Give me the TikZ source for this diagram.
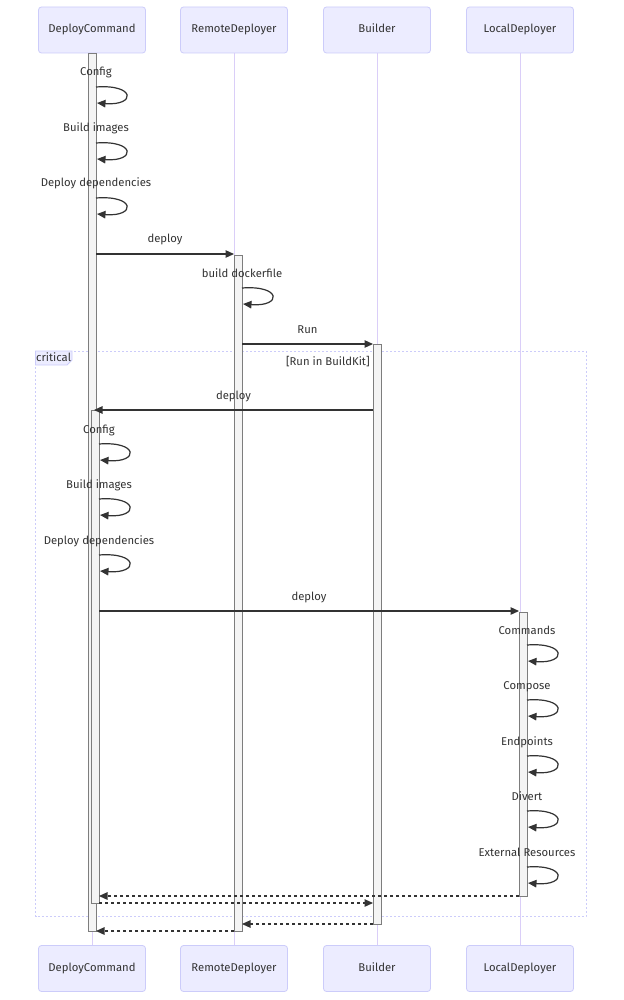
\documentclass[tikz,border=0pt]{standalone}
\usepackage{fontspec}
\setmainfont{Fira Sans}
\usetikzlibrary{arrows.meta}
\definecolor{ActorFill}{RGB}{236,236,255}
\definecolor{ActorEdge}{RGB}{204,204,250}
\definecolor{LifeLine}{RGB}{218,206,248}
\definecolor{ActFill}{RGB}{244,244,244}
\definecolor{ActEdge}{RGB}{125,125,125}
\definecolor{InkGray}{RGB}{51,51,51}
\tikzset{
  actor/.style={draw=ActorEdge,fill=ActorFill,rounded corners=3pt,line width=0.8pt,
    minimum width=107pt,minimum height=46pt,inner sep=0pt,text height=8pt,text depth=2.5pt,
    font=\fontsize{11.3}{13}\selectfont,text=InkGray},
  lifeline/.style={draw=LifeLine,line width=0.9pt},
  activation/.style={draw=ActEdge,fill=ActFill,line width=0.8pt},
  msg/.style={-{Triangle[length=8.5pt,width=7.5pt]},line width=1.2pt,InkGray},
  reply/.style={msg,dash pattern=on 3pt off 3pt},
  msglabel/.style={font=\fontsize{11.3}{13}\selectfont,text=InkGray,inner sep=0pt,anchor=base},
  critframe/.style={draw=ActorEdge,dash pattern=on 2pt off 2pt,line width=0.8pt}
}
\begin{document}
\begin{tikzpicture}[x=1pt,y=-1pt]
  \useasboundingbox[fill=white] (0,0) rectangle (623,1000);
  % actors, top and bottom
  \node[actor] (dcTop) at (92,30) {DeployCommand};
  \node[actor] (rdTop) at (234,30) {RemoteDeployer};
  \node[actor] (bTop) at (377,30) {Builder};
  \node[actor] (ldTop) at (520,30) {LocalDeployer};
  \node[actor] (dcBot) at (92,968.5) {DeployCommand};
  \node[actor] (rdBot) at (234,968.5) {RemoteDeployer};
  \node[actor] (bBot) at (377,968.5) {Builder};
  \node[actor] (ldBot) at (520,968.5) {LocalDeployer};
  \foreach \a in {dc,rd,b,ld}
    \draw[lifeline] (\a Top.south) -- (\a Bot.north);
  % critical region
  \draw[critframe] (35.5,351) rectangle (586,916.5);
  \draw[fill=ActorFill,draw=ActorEdge,line width=0.8pt] (35.5,351) -- (72,351) -- (72,360) -- (67,365) -- (35.5,365) -- cycle;
  \node[msglabel,anchor=base west] (critTag) at (36,361.5) {critical};
  \node[msglabel,anchor=base east] (critCond) at (370,365.5) {[Run in BuildKit]};
  % activations
  \draw[activation] (88,53) rectangle (96,931);
  \draw[activation] (234,255) rectangle (242,931);
  \draw[activation] (373,344) rectangle (381,924);
  \draw[activation] (91,410) rectangle (99,903);
  \draw[activation] (519,612) rectangle (527,896);
  % self calls
  \foreach \n/\x/\y/\t in {a/96/87/Config,b/96/143/Build images,c/96/198/Deploy dependencies,
      d/242/288/build dockerfile,e/99/444/Config,f/99/499/Build images,g/99/555/Deploy dependencies,
      h/527/645/Commands,i/527/700/Compose,j/527/756/Endpoints,k/527/811/Divert,l/527/867/External Resources}{
    \coordinate (self\n) at (\x,\y);
    \coordinate (back\n) at (\x+1,\y+16);
    \node[msglabel] (lbl\n) at (\x,\y-11) {\t};
    \draw[msg] (self\n) .. controls +(40,-3) and +(39,3) .. (back\n);
  }
  % calls
  \coordinate (deployOut) at (96,254);   \coordinate (deployIn) at (234,254);
  \coordinate (runOut) at (242,344);     \coordinate (runIn) at (373,344);
  \coordinate (backOut) at (373,410);    \coordinate (backIn) at (94,410);
  \coordinate (localOut) at (99,611);    \coordinate (localIn) at (519,611);
  \draw[msg] (deployOut) -- (deployIn) node[msglabel,pos=0.5,yshift=11pt]{deploy};
  \draw[msg] (runOut) -- (runIn) node[msglabel,pos=0.5,yshift=11pt]{Run};
  \draw[msg] (backOut) -- (backIn) node[msglabel,pos=0.5,yshift=11pt]{deploy};
  \draw[msg] (localOut) -- (localIn) node[msglabel,pos=0.5,yshift=11pt]{deploy};
  % replies
  \coordinate (ldRet) at (519,896);  \coordinate (dcRetA) at (99,896);
  \coordinate (dcRetB) at (99,903);  \coordinate (bRetA) at (373,903);
  \coordinate (bRetB) at (373,924);  \coordinate (rdRetA) at (242,924);
  \coordinate (rdRetB) at (234,931); \coordinate (dcRetC) at (96,931);
  \draw[reply] (ldRet) -- (dcRetA);
  \draw[reply] (dcRetB) -- (bRetA);
  \draw[reply] (bRetB) -- (rdRetA);
  \draw[reply] (rdRetB) -- (dcRetC);
\end{tikzpicture}
\end{document}
